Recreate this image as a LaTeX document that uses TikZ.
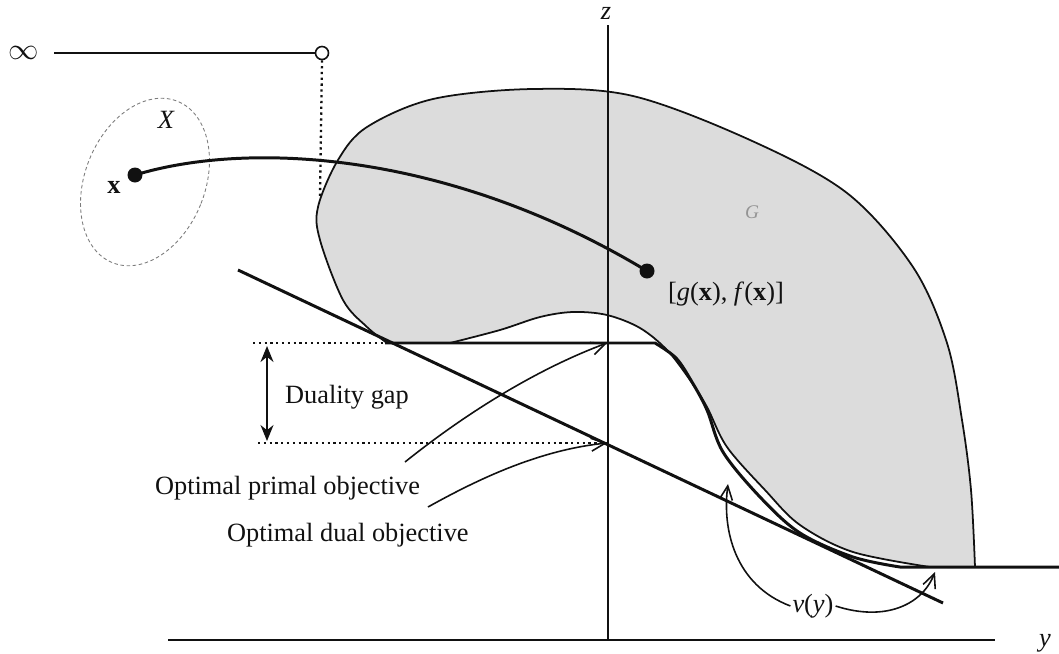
\documentclass[tikz,border=0pt]{standalone}
\usepackage{fontspec}
\setmainfont{Liberation Serif}
\usepackage{tikz}
\usetikzlibrary{arrows.meta}
\definecolor{gfill}{HTML}{DCDCDC}
\definecolor{ink}{HTML}{111111}
\tikzset{
  lbl/.style={font=\fontsize{15}{18}\selectfont, text=ink, inner sep=1pt},
  dotnode/.style={circle, fill=ink, inner sep=0pt, minimum size=0.3cm},
  heavy/.style={draw=ink, line width=1.7pt},
  light/.style={draw=ink, line width=1pt},
  pointer/.style={draw=ink, line width=0.9pt, -{Straight Barb[length=2.8mm, width=2.6mm]}}
}
\begin{document}
\begin{tikzpicture}[x=0.02cm, y=-0.02cm]
\useasboundingbox (0,0) rectangle (1059,653);
% set G
\fill[gfill] plot[smooth, tension=0.55] coordinates {(387,343) (367,327) (343,300) (320,240) (318,207)
  (338,160) (367,127) (433,99) (533,89) (633,96) (750,140) (847,193) (913,267) (947,343) (962,420) (971,490) (975,567)}
  -- plot[smooth, tension=0.55] coordinates {(975,567) (930,567) (853,552) (800,525) (765,490) (727,447) (707,407)
  (690,380) (667,350) (640,328) (607,315) (573,312) (540,317) (500,330) (450,343)} -- cycle;
\draw[light] plot[smooth, tension=0.55] coordinates {(387,343) (367,327) (343,300) (320,240) (318,207)
  (338,160) (367,127) (433,99) (533,89) (633,96) (750,140) (847,193) (913,267) (947,343) (962,420) (971,490) (975,567)};
\draw[light] plot[smooth, tension=0.55] coordinates {(930,567) (853,552) (800,525) (765,490) (727,447) (707,407)
  (690,380) (667,350) (640,328) (607,315) (573,312) (540,317) (500,330) (450,343)};
\node[lbl, text=ink!45, font=\fontsize{11}{13}\selectfont\itshape] (Glbl) at (752,212) {G};

% axes
\coordinate (O) at (608,640);
\coordinate (ztop) at (608,25);
\coordinate (yleft) at (168,640);
\coordinate (yright) at (995,640);
\draw[light] (O) -- (ztop);
\draw[light] (yleft) -- (yright);
\node[lbl, font=\fontsize{15}{18}\selectfont\itshape] (zlbl) at (606,13) {z};
\node[lbl, font=\fontsize{15}{18}\selectfont\itshape] (ylbl) at (1045,643) {y};

% infinity branch
\node[lbl, font=\fontsize{17}{20}\selectfont] (inf) at (24,53) {$\infty$};
\node[circle, draw=ink, fill=white, line width=0.9pt, inner sep=0pt, minimum size=0.26cm] (hole) at (322,53) {};
\coordinate (dropend) at (320,197);
\draw[light] (inf.east) ++(13,0) -- (hole.west);
\draw[ink, line width=1.3pt, dotted] (hole.south) -- (dropend);

% set X and the map
\draw[ink!55, line width=0.5pt, dash pattern=on 2pt off 1.5pt] (145,182) ellipse [x radius=60, y radius=87, rotate=-22];
\node[lbl, font=\fontsize{15}{18}\selectfont\itshape] (Xlbl) at (166,120) {X};
\node[dotnode] (xpt) at (135,175) {};
\node[lbl, font=\fontsize{15}{18}\selectfont\bfseries] (xlbl) at (114,187) {x};
\node[dotnode] (gx) at (647,271) {};
\node[lbl, anchor=west] (gxlbl) at (666,294) {[\textit{g}(\textbf{x}), \textit{f}(\textbf{x})]};
\draw[heavy] (xpt.center) .. controls (250,140) and (450,152) .. (gx.center);

% perturbation function v(y)
\coordinate (vstart) at (385,343);
\coordinate (vend) at (1059,567);
\draw[heavy] (vstart) -- (655,343)
  -- plot[smooth, tension=0.55] coordinates {(655,343) (676,358) (692,382) (707,410) (723,452) (760,497) (800,533) (853,557) (900,567)}
  -- (vend);

% supporting line
\coordinate (sl1) at (238,270);
\coordinate (sl2) at (943,603);
\draw[heavy] (sl1) -- (sl2);

% duality gap
\coordinate (primal) at (607,343);
\coordinate (dual) at (607,443);
\draw[ink, line width=1.3pt, dotted] (253,343) -- (vstart);
\draw[ink, line width=1.3pt, dotted] (258,443) -- (dual);
\coordinate (gaptop) at (267,346);
\coordinate (gapbot) at (267,441);
\draw[ink, line width=1.1pt, {Stealth[length=3.2mm, width=2.6mm]}-{Stealth[length=3.2mm, width=2.6mm]}] (gaptop) -- (gapbot);
\node[lbl, anchor=west] (gaplbl) at (283,397) {Duality gap};

% objectives
\node[lbl, anchor=west] (primallbl) at (153,488) {Optimal primal objective};
\node[lbl, anchor=west] (duallbl) at (225,535) {Optimal dual objective};
\coordinate (ptail) at (405,462);
\coordinate (dtail) at (428,507);
\draw[pointer] (ptail) .. controls (470,410) and (540,368) .. (primal);
\draw[pointer] (dtail) .. controls (480,478) and (540,450) .. (dual);

% v(y) label
\node[lbl] (vlbl) at (813,606) {\textit{v}(\textit{y})};
\coordinate (vtip1) at (728,484);
\coordinate (vtip2) at (935,572);
\draw[pointer] (vlbl.west) .. controls (735,585) and (722,530) .. (vtip1);
\draw[pointer] (vlbl.east) .. controls (885,622) and (922,605) .. (vtip2);
\end{tikzpicture}
\end{document}
